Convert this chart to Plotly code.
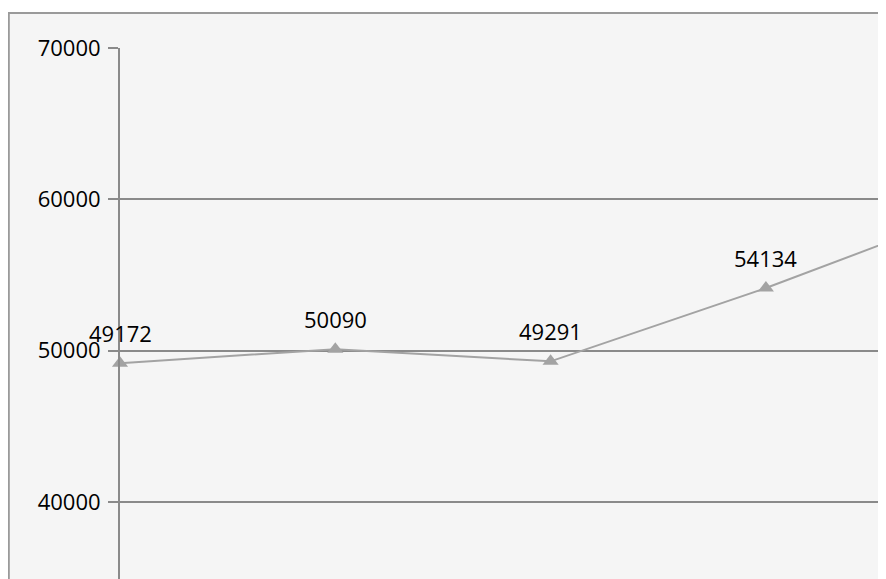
import plotly.graph_objects as go

categories = [0, 1, 2, 3, 4]
values = [49172, 50090, 49291, 54134, 59500]
labels = ["49172", "50090", "49291", "54134", "59500"]
y_ticks = [40000, 50000, 60000, 70000]

# page body adds an 8px offset, so the figure is shifted up/left by 8px
OFF = 8
W, H = 886, 579 - OFF
ML, MT = 120 - OFF, 48 - OFF
plot_w = W - ML
plot_h = H - MT

fig = go.Figure()
fig.add_trace(go.Scatter(
    x=categories, y=values, mode="lines+markers",
    line=dict(color="#a3a3a3", width=2),
    marker=dict(symbol="triangle-up", size=14, color="#a3a3a3"),
    cliponaxis=False, hoverinfo="skip", showlegend=False,
))

for xv, yv, t in zip(categories, values, labels):
    fig.add_annotation(x=xv, y=yv, text=t, showarrow=False, yshift=30,
                       xanchor="center", yanchor="middle",
                       font=dict(family="Open Sans", size=22, color="#000000"))

px_per_cat = 215.3
x_max = plot_w / px_per_cat
px_per_unit = 151.3 / 10000
y_min = 70000 - plot_h / px_per_unit

fig.add_shape(type="rect", xref="paper", yref="paper",
              x0=(0.8 - ML) / plot_w, x1=1.2,
              y0=-0.2, y1=(H - (13 - OFF)) / plot_h,
              fillcolor="#f5f5f5", line=dict(color="#9a9a9a", width=2),
              layer="below")

fig.update_layout(
    width=W, height=H,
    margin=dict(l=ML, r=0, t=MT, b=0),
    paper_bgcolor="white", plot_bgcolor="#f5f5f5",
    font=dict(family="Open Sans", size=22, color="#000000"),
    xaxis=dict(range=[0, x_max], showgrid=False, zeroline=False,
               showticklabels=False, showline=False, ticks=""),
    yaxis=dict(range=[y_min, 70000.01], tickvals=y_ticks,
               ticktext=[str(v) for v in y_ticks],
               showgrid=True, gridcolor="#8a8a8a", gridwidth=1.5,
               zeroline=False, showline=True, linecolor="#8a8a8a", linewidth=2,
               ticks="outside", ticklen=10, tickcolor="#8a8a8a", tickwidth=1.5,
               ticklabelstandoff=3),
)

fig.write_html("out.html")
